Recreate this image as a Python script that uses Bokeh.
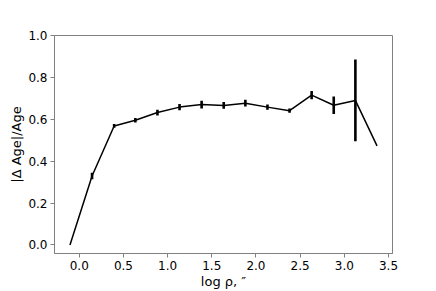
from bokeh.plotting import figure
from bokeh.embed import file_html
from bokeh.resources import INLINE
from bokeh.models import Range1d, FixedTicker

log_rho = [-0.105, 0.145, 0.395, 0.635, 0.885, 1.135, 1.385, 1.635, 1.88, 2.13, 2.38, 2.63, 2.88, 3.125, 3.37]
rel_age = [0.0, 0.329, 0.568, 0.595, 0.632, 0.658, 0.67, 0.666, 0.677, 0.658, 0.641, 0.715, 0.667, 0.69, 0.473]
err = [0.0, 0.016, 0.009, 0.011, 0.014, 0.015, 0.018, 0.016, 0.016, 0.012, 0.01, 0.02, 0.042, 0.195, 0.0]
x_ticks = [0.0, 0.5, 1.0, 1.5, 2.0, 2.5, 3.0, 3.5]
y_ticks = [0.0, 0.2, 0.4, 0.6, 0.8, 1.0]

p = figure(width=436, height=291, output_backend="svg", toolbar_location=None,
           x_range=Range1d(-0.28, 3.545), y_range=Range1d(-0.041, 1.0),
           min_border_left=54, min_border_right=44, min_border_top=35, min_border_bottom=37)
p.grid.visible = False
p.outline_line_color = "#808080"
p.outline_line_width = 1

lo = [v - e for v, e in zip(rel_age, err)]
hi = [v + e for v, e in zip(rel_age, err)]
p.line(log_rho, rel_age, line_color="black", line_width=1.5)
p.segment(x0=log_rho, y0=lo, x1=log_rho, y1=hi, line_color="black", line_width=2.6)

for ax in (p.xaxis[0], p.yaxis[0]):
    ax.axis_line_color = "#808080"
    ax.major_tick_line_color = "#808080"
    ax.minor_tick_line_color = None
    ax.major_tick_out = 4
    ax.major_tick_in = 0
    ax.major_label_text_font = "DejaVu Sans"
    ax.major_label_text_font_size = "12px"
    ax.major_label_text_color = "black"
    ax.axis_label_text_font = "DejaVu Sans"
    ax.axis_label_text_font_size = "13px"
    ax.axis_label_text_font_style = "normal"
    ax.axis_label_text_color = "black"

p.xaxis.ticker = FixedTicker(ticks=x_ticks)
p.yaxis.ticker = FixedTicker(ticks=y_ticks)
p.xaxis.major_label_overrides = {t: f"{t:.1f}" for t in x_ticks}
p.yaxis.major_label_overrides = {t: f"{t:.1f}" for t in y_ticks}
p.xaxis.axis_label = "log ρ, ″"
p.yaxis.axis_label = "|Δ Age|/Age"
p.xaxis.major_label_standoff = 3
p.xaxis.axis_label_standoff = 1
p.yaxis.major_label_standoff = 3
p.yaxis.axis_label_standoff = 1

open("out.html", "w").write(file_html(p, INLINE))
